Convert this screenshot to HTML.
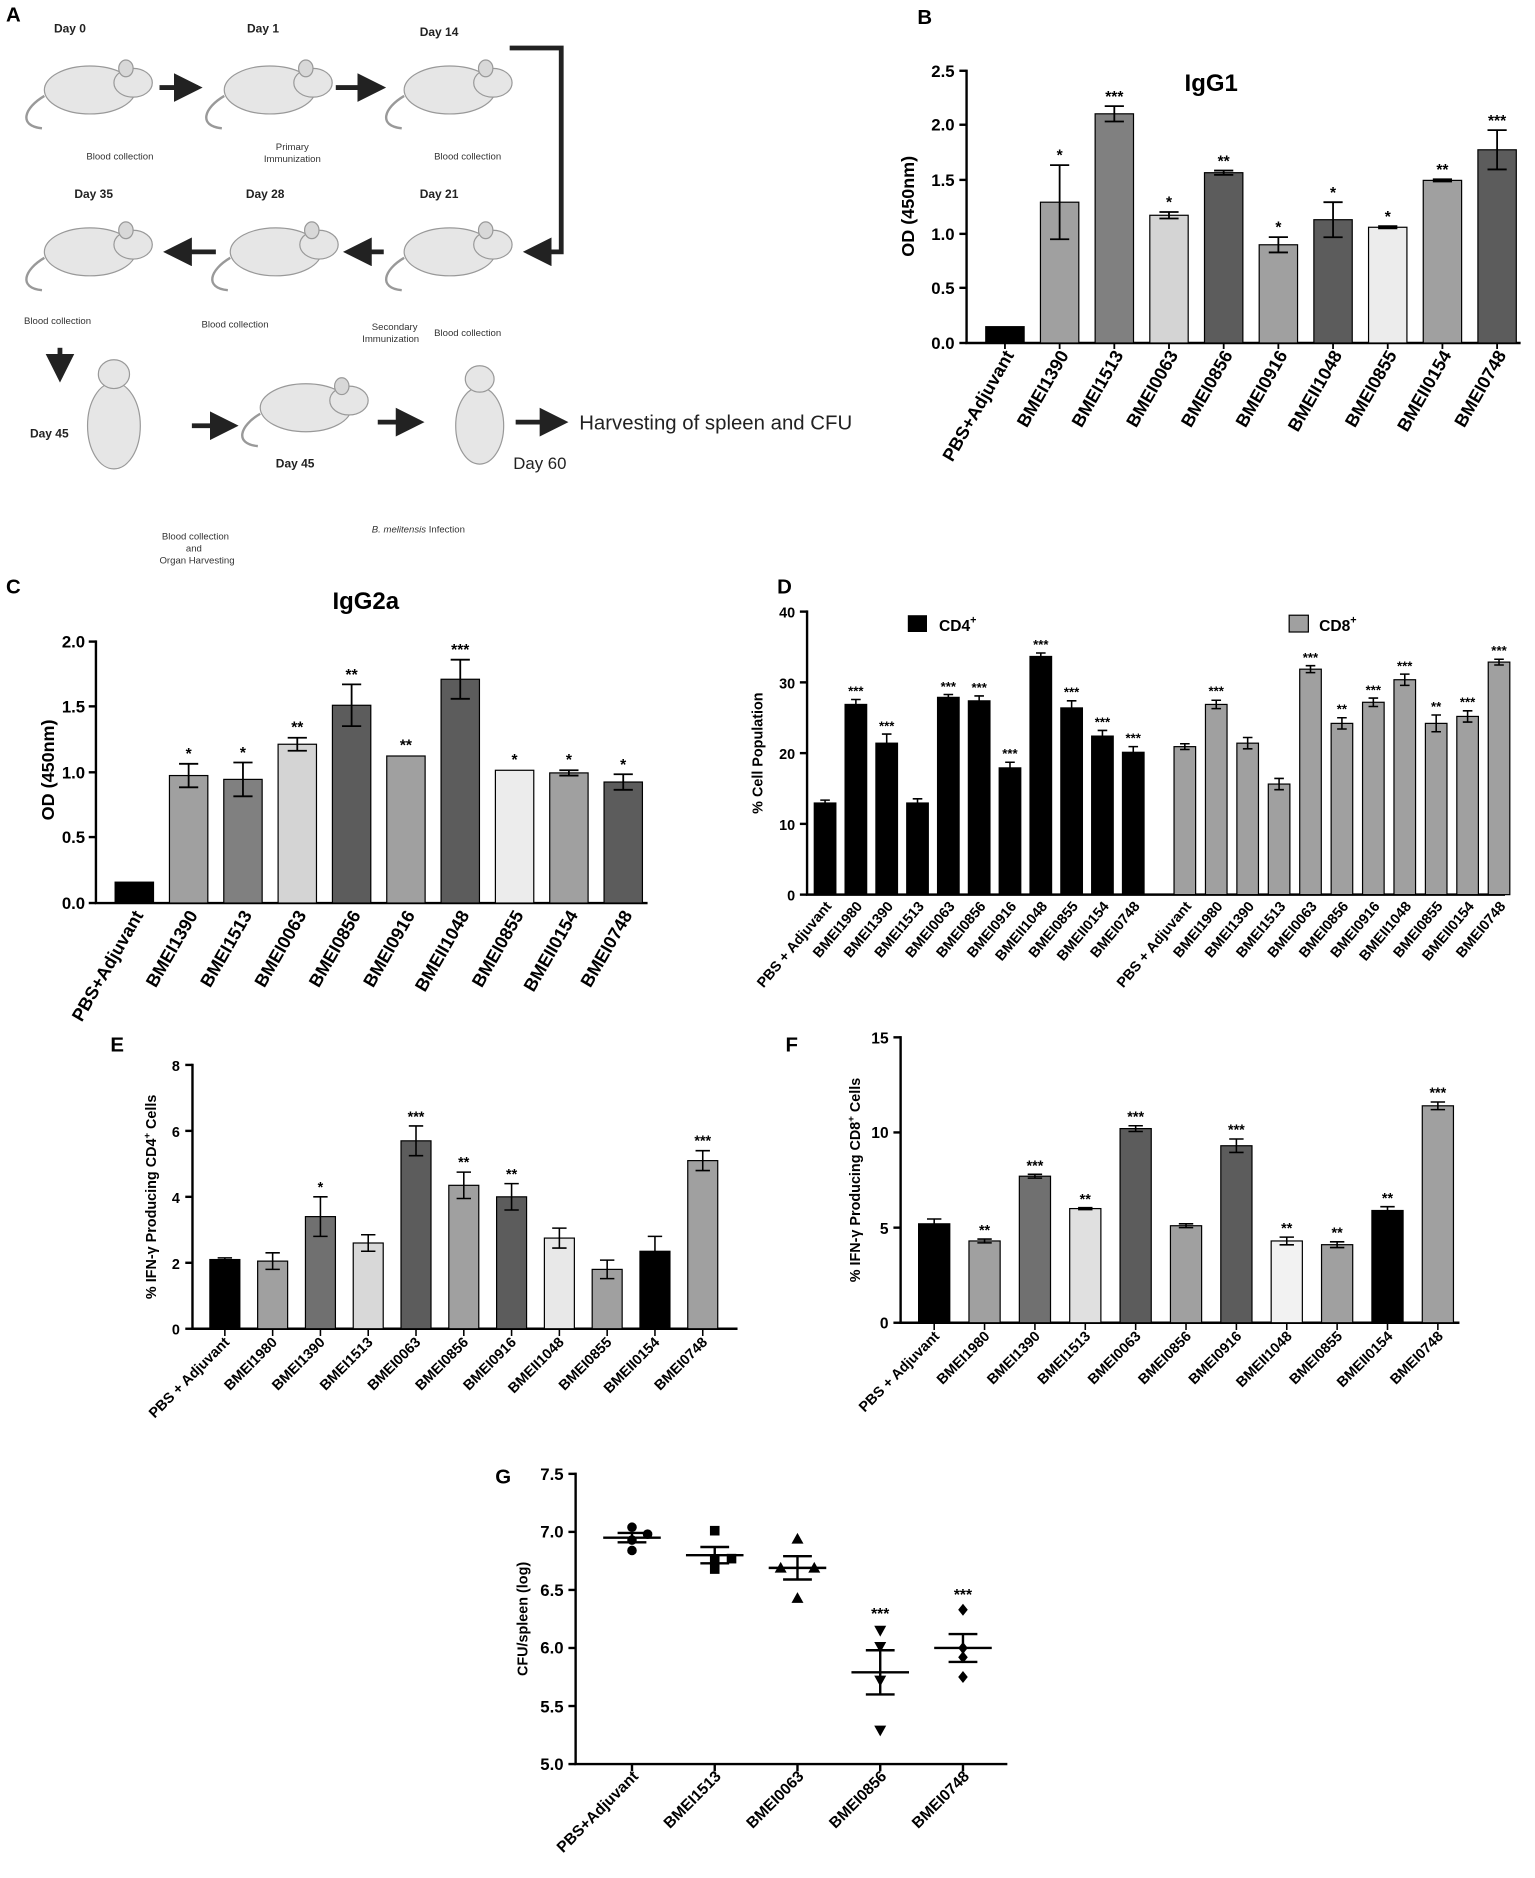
<!DOCTYPE html>
<html><head><meta charset="utf-8"><style>
html,body{margin:0;padding:0;background:#fff}
svg{display:block}
text{font-family:"Liberation Sans",Arial,sans-serif}
</style></head><body>
<svg width="1535" height="1878" viewBox="0 0 1280 1566" xmlns="http://www.w3.org/2000/svg">
<defs>
<marker id="ah" markerWidth="6" markerHeight="6" refX="5" refY="3" orient="auto"><path d="M0,0 L6,3 L0,6 z" fill="#222"/></marker>
<g id="mouse">
<ellipse cx="0" cy="0" rx="38" ry="20" fill="#e6e6e6" stroke="#999" stroke-width="1"/>
<ellipse cx="36" cy="-6" rx="16" ry="12" fill="#e6e6e6" stroke="#999" stroke-width="1"/>
<ellipse cx="30" cy="-18" rx="6" ry="7" fill="#d8d8d8" stroke="#999"/>
<path d="M-38,5 C-55,15 -60,30 -40,32" fill="none" stroke="#999" stroke-width="2"/>
</g>
</defs>
<rect width="1280" height="1566" fill="#fff"/>
<g font-weight="bold" font-size="17">
<text x="5" y="18">A</text><text x="765" y="20">B</text><text x="5" y="495">C</text><text x="648" y="495">D</text><text x="92" y="877">E</text><text x="655" y="877">F</text><text x="413" y="1237">G</text>
</g>
<!-- Panel A -->
<g font-size="10" font-weight="bold" fill="#222">
<text x="45" y="27">Day 0</text><text x="206" y="27">Day 1</text><text x="350" y="30">Day 14</text>
<text x="62" y="165">Day 35</text><text x="205" y="165">Day 28</text><text x="350" y="165">Day 21</text>
<text x="25" y="365">Day 45</text><text x="230" y="390">Day 45</text>
</g>
<g font-size="8" fill="#333">
<text x="72" y="133">Blood collection</text><text x="230" y="125">Primary</text><text x="220" y="135">Immunization</text>
<text x="362" y="133">Blood collection</text><text x="20" y="270">Blood collection</text><text x="168" y="273">Blood collection</text>
<text x="310" y="275">Secondary</text><text x="302" y="285">Immunization</text><text x="362" y="280">Blood collection</text>
<text x="135" y="450">Blood collection</text><text x="155" y="460">and</text><text x="133" y="470">Organ Harvesting</text>
<text x="310" y="444"><tspan font-style="italic">B. melitensis</tspan> Infection</text>
</g>
<use href="#mouse" x="75" y="75"/><use href="#mouse" x="225" y="75"/><use href="#mouse" x="375" y="75"/>
<use href="#mouse" x="75" y="210"/><use href="#mouse" x="230" y="210"/><use href="#mouse" x="375" y="210"/>
<use href="#mouse" x="255" y="340"/>
<ellipse cx="95" cy="355" rx="22" ry="36" fill="#e6e6e6" stroke="#999"/><ellipse cx="95" cy="312" rx="13" ry="12" fill="#e6e6e6" stroke="#999"/>
<ellipse cx="400" cy="355" rx="20" ry="32" fill="#e6e6e6" stroke="#999"/><ellipse cx="400" cy="316" rx="12" ry="11" fill="#e6e6e6" stroke="#999"/>
<g stroke="#222" stroke-width="4" fill="none" marker-end="url(#ah)">
<line x1="133" y1="73" x2="165" y2="73"/><line x1="280" y1="73" x2="318" y2="73"/>
<polyline points="425,40 468,40 468,210 440,210"/><line x1="320" y1="210" x2="290" y2="210"/><line x1="180" y1="210" x2="140" y2="210"/>
<line x1="50" y1="290" x2="50" y2="315"/><line x1="160" y1="355" x2="195" y2="355"/><line x1="315" y1="352" x2="350" y2="352"/><line x1="430" y1="352" x2="470" y2="352"/>
</g>
<text x="483" y="358" font-size="17" fill="#222">Harvesting of spleen and CFU</text>
<text x="428" y="391" font-size="14" fill="#222">Day 60</text>

<g font-weight="bold" font-size="13" fill="#000">
<!-- B axes -->
<text x="1010" y="76" font-size="20" text-anchor="middle">IgG1</text>
<text transform="translate(762,172) rotate(-90)" text-anchor="middle" font-size="15">OD (450nm)</text>
<g stroke="#000" stroke-width="2"><line x1="806" y1="58" x2="806" y2="286"/><line x1="805" y1="286" x2="1268" y2="286"/>
<line x1="800" y1="59" x2="806" y2="59"/><line x1="800" y1="104" x2="806" y2="104"/><line x1="800" y1="150" x2="806" y2="150"/><line x1="800" y1="195" x2="806" y2="195"/><line x1="800" y1="240" x2="806" y2="240"/><line x1="800" y1="286" x2="806" y2="286"/></g>
<g text-anchor="end" font-size="14"><text x="796" y="64">2.5</text><text x="796" y="109">2.0</text><text x="796" y="155">1.5</text><text x="796" y="200">1.0</text><text x="796" y="245">0.5</text><text x="796" y="291">0.0</text></g>
<g stroke="#000" stroke-width="1">
<rect x="822" y="272.4" width="32" height="13.6" fill="#000"/>
<rect x="867.6" y="168.6" width="32" height="117.4" fill="#a0a0a0"/>
<rect x="913.2" y="94.9" width="32" height="191.1" fill="#808080"/>
<rect x="958.8" y="179.5" width="32" height="106.5" fill="#d4d4d4"/>
<rect x="1004.4" y="144" width="32" height="142" fill="#5c5c5c"/>
<rect x="1050" y="204.1" width="32" height="81.9" fill="#a0a0a0"/>
<rect x="1095.6" y="183.2" width="32" height="102.8" fill="#5c5c5c"/>
<rect x="1141.2" y="189.5" width="32" height="96.5" fill="#ececec"/>
<rect x="1186.8" y="150.4" width="32" height="135.6" fill="#a0a0a0"/>
<rect x="1232.4" y="124.9" width="32" height="161.1" fill="#5c5c5c"/>
</g>
<path stroke="#000" stroke-width="1.5" fill="none" d="
M883.6,137.7V199.5M875.6,137.7h16M875.6,199.5h16
M929.2,88.5V101.3M921.2,88.5h16M921.2,101.3h16
M974.8,176.8V182.2M966.8,176.8h16M966.8,182.2h16
M1020.4,142.2V145.8M1012.4,142.2h16M1012.4,145.8h16
M1066,197.7V210.5M1058,197.7h16M1058,210.5h16
M1111.6,168.6V197.8M1103.6,168.6h16M1103.6,197.8h16
M1157.2,188.6V190.4M1149.2,188.6h16M1149.2,190.4h16
M1202.8,149.5V151.3M1194.8,149.5h16M1194.8,151.3h16
M1248.4,108.5V141.3M1240.4,108.5h16M1240.4,141.3h16
M838,286v5M883.6,286v5M929.2,286v5M974.8,286v5M1020.4,286v5M1066,286v5M1111.6,286v5M1157.2,286v5M1202.8,286v5M1248.4,286v5"/>
<g text-anchor="middle" font-size="13">
<text x="883.6" y="134">*</text><text x="929.2" y="85">***</text><text x="974.8" y="173">*</text><text x="1020.4" y="139">**</text><text x="1066" y="194">*</text><text x="1111.6" y="165">*</text><text x="1157.2" y="185">*</text><text x="1202.8" y="146">**</text><text x="1248.4" y="105">***</text>
</g>
<g text-anchor="end" font-size="15">
<text transform="translate(846,296) rotate(-60)">PBS+Adjuvant</text>
<text transform="translate(891.6,296) rotate(-60)">BMEI1390</text>
<text transform="translate(937.2,296) rotate(-60)">BMEI1513</text>
<text transform="translate(982.8,296) rotate(-60)">BMEI0063</text>
<text transform="translate(1028.4,296) rotate(-60)">BMEI0856</text>
<text transform="translate(1074,296) rotate(-60)">BMEI0916</text>
<text transform="translate(1119.6,296) rotate(-60)">BMEII1048</text>
<text transform="translate(1165.2,296) rotate(-60)">BMEI0855</text>
<text transform="translate(1210.8,296) rotate(-60)">BMEII0154</text>
<text transform="translate(1256.4,296) rotate(-60)">BMEI0748</text>
</g>

<!-- C -->
<text x="305" y="508" font-size="20" text-anchor="middle">IgG2a</text>
<text transform="translate(45,642) rotate(-90)" text-anchor="middle" font-size="15">OD (450nm)</text>
<g stroke="#000" stroke-width="2"><line x1="80" y1="534" x2="80" y2="753"/><line x1="79" y1="753" x2="540" y2="753"/>
<line x1="74" y1="535" x2="80" y2="535"/><line x1="74" y1="589" x2="80" y2="589"/><line x1="74" y1="644" x2="80" y2="644"/><line x1="74" y1="698" x2="80" y2="698"/><line x1="74" y1="753" x2="80" y2="753"/></g>
<g text-anchor="end" font-size="14"><text x="71" y="540">2.0</text><text x="71" y="594">1.5</text><text x="71" y="649">1.0</text><text x="71" y="703">0.5</text><text x="71" y="758">0.0</text></g>
<g stroke="#000" stroke-width="1">
<rect x="96" y="735.6" width="32" height="17.4" fill="#000"/>
<rect x="141.3" y="646.7" width="32" height="106.3" fill="#a0a0a0"/>
<rect x="186.6" y="649.9" width="32" height="103.1" fill="#808080"/>
<rect x="231.9" y="620.6" width="32" height="132.4" fill="#d4d4d4"/>
<rect x="277.2" y="588.1" width="32" height="164.9" fill="#5c5c5c"/>
<rect x="322.5" y="630.4" width="32" height="122.6" fill="#a0a0a0"/>
<rect x="367.8" y="566.4" width="32" height="186.6" fill="#5c5c5c"/>
<rect x="413.1" y="642.3" width="32" height="110.7" fill="#ececec"/>
<rect x="458.4" y="644.5" width="32" height="108.5" fill="#a0a0a0"/>
<rect x="503.7" y="652.1" width="32" height="100.9" fill="#5c5c5c"/>
</g>
<path stroke="#000" stroke-width="1.5" fill="none" d="
M157.3,636.9V656.5M149.3,636.9h16M149.3,656.5h16
M202.6,635.8V664M194.6,635.8h16M194.6,664h16
M247.9,615.2V626M239.9,615.2h16M239.9,626h16
M293.2,570.7V605.5M285.2,570.7h16M285.2,605.5h16
M383.8,550.1V582.7M375.8,550.1h16M375.8,582.7h16
M474.4,642.3V646.7M466.4,642.3h16M466.4,646.7h16
M519.7,645.6V658.6M511.7,645.6h16M511.7,658.6h16"/>
<g text-anchor="middle" font-size="13">
<text x="157.3" y="633">*</text><text x="202.6" y="632">*</text><text x="247.9" y="611">**</text><text x="293.2" y="567">**</text><text x="338.5" y="626">**</text><text x="383.8" y="546">***</text><text x="429.1" y="638">*</text><text x="474.4" y="638">*</text><text x="519.7" y="642">*</text>
</g>
<g text-anchor="end" font-size="15">
<text transform="translate(120,763) rotate(-60)">PBS+Adjuvant</text>
<text transform="translate(165.3,763) rotate(-60)">BMEI1390</text>
<text transform="translate(210.6,763) rotate(-60)">BMEI1513</text>
<text transform="translate(255.9,763) rotate(-60)">BMEI0063</text>
<text transform="translate(301.2,763) rotate(-60)">BMEI0856</text>
<text transform="translate(346.5,763) rotate(-60)">BMEI0916</text>
<text transform="translate(391.8,763) rotate(-60)">BMEII1048</text>
<text transform="translate(437.1,763) rotate(-60)">BMEI0855</text>
<text transform="translate(482.4,763) rotate(-60)">BMEII0154</text>
<text transform="translate(527.7,763) rotate(-60)">BMEI0748</text>
</g>

<!-- D -->
<text transform="translate(636,628) rotate(-90)" text-anchor="middle" font-size="12">% Cell Population</text>
<g stroke="#000" stroke-width="2"><line x1="673" y1="509" x2="673" y2="746"/><line x1="672" y1="746" x2="1255" y2="746"/>
<line x1="667" y1="510" x2="673" y2="510"/><line x1="667" y1="569" x2="673" y2="569"/><line x1="667" y1="628" x2="673" y2="628"/><line x1="667" y1="687" x2="673" y2="687"/><line x1="667" y1="746" x2="673" y2="746"/></g>
<g text-anchor="end" font-size="12"><text x="663" y="515">40</text><text x="663" y="574">30</text><text x="663" y="633">20</text><text x="663" y="692">10</text><text x="663" y="751">0</text></g>
<rect x="757" y="513" width="16" height="14" fill="#000"/><text x="783" y="526">CD4<tspan font-size="9" dy="-6">+</tspan></text>
<rect x="1075" y="513" width="16" height="14" fill="#a0a0a0" stroke="#000"/><text x="1100" y="526">CD8<tspan font-size="9" dy="-6">+</tspan></text>
<g stroke="#000" stroke-width="1" fill="#000">
<rect x="679" y="669.6" width="18" height="76.4"/>
<rect x="704.7" y="587.4" width="18" height="158.6"/>
<rect x="730.4" y="619.7" width="18" height="126.3"/>
<rect x="756.1" y="669.6" width="18" height="76.4"/>
<rect x="781.8" y="581.5" width="18" height="164.5"/>
<rect x="807.5" y="584.4" width="18" height="161.6"/>
<rect x="833.2" y="640.3" width="18" height="105.7"/>
<rect x="858.9" y="547.4" width="18" height="198.6"/>
<rect x="884.6" y="590.3" width="18" height="155.7"/>
<rect x="910.3" y="613.8" width="18" height="132.2"/>
<rect x="936" y="627.3" width="18" height="118.7"/>
</g>
<g stroke="#000" stroke-width="1" fill="#a0a0a0">
<rect x="979" y="622.6" width="18" height="123.4"/>
<rect x="1005.2" y="587.4" width="18" height="158.6"/>
<rect x="1031.4" y="619.7" width="18" height="126.3"/>
<rect x="1057.6" y="653.8" width="18" height="92.2"/>
<rect x="1083.8" y="558" width="18" height="188"/>
<rect x="1110" y="603.2" width="18" height="142.8"/>
<rect x="1136.2" y="585.6" width="18" height="160.4"/>
<rect x="1162.4" y="566.8" width="18" height="179.2"/>
<rect x="1188.6" y="603.2" width="18" height="142.8"/>
<rect x="1214.8" y="597.4" width="18" height="148.6"/>
<rect x="1241" y="552.1" width="18" height="193.9"/>
</g>
<path stroke="#000" stroke-width="1.3" fill="none" d="
M688,667.2V672M684,667.2h8M684,672h8
M713.7,583.3V591.5M709.7,583.3h8M709.7,591.5h8
M739.4,612.1V627.3M735.4,612.1h8M735.4,627.3h8
M765.1,666.1V673.1M761.1,666.1h8M761.1,673.1h8
M790.8,579.1V583.9M786.8,579.1h8M786.8,583.9h8
M816.5,580.3V588.5M812.5,580.3h8M812.5,588.5h8
M842.2,635.6V645M838.2,635.6h8M838.2,645h8
M867.9,544.5V550.3M863.9,544.5h8M863.9,550.3h8
M893.6,584.4V596.2M889.6,584.4h8M889.6,596.2h8
M919.3,609.1V618.5M915.3,609.1h8M915.3,618.5h8
M945,622.6V632M941,622.6h8M941,632h8
M988,620.2V625M984,620.2h8M984,625h8
M1014.2,583.9V590.9M1010.2,583.9h8M1010.2,590.9h8
M1040.4,615V624.4M1036.4,615h8M1036.4,624.4h8
M1066.6,649.1V658.5M1062.6,649.1h8M1062.6,658.5h8
M1092.8,555.1V560.9M1088.8,555.1h8M1088.8,560.9h8
M1119,598.5V607.9M1115,598.5h8M1115,607.9h8
M1145.2,582.1V589.1M1141.2,582.1h8M1141.2,589.1h8
M1171.4,562.1V571.5M1167.4,562.1h8M1167.4,571.5h8
M1197.6,596.2V610.2M1193.6,596.2h8M1193.6,610.2h8
M1223.8,592.7V602.1M1219.8,592.7h8M1219.8,602.1h8
M1250,549.7V554.5M1246,549.7h8M1246,554.5h8" />
<g text-anchor="middle" font-size="11">
<text x="713.7" y="580">***</text><text x="739.4" y="609">***</text><text x="790.8" y="576">***</text><text x="816.5" y="577">***</text><text x="842.2" y="632">***</text><text x="867.9" y="541">***</text><text x="893.6" y="581">***</text><text x="919.3" y="606">***</text><text x="945" y="619">***</text>
<text x="1014.2" y="580">***</text><text x="1092.8" y="552">***</text><text x="1119" y="595">**</text><text x="1145.2" y="579">***</text><text x="1171.4" y="559">***</text><text x="1197.6" y="593">**</text><text x="1223.8" y="589">***</text><text x="1250" y="546">***</text>
</g>
<g text-anchor="end" font-size="12">
<text transform="translate(694,756) rotate(-50)">PBS + Adjuvant</text>
<text transform="translate(719.7,756) rotate(-50)">BMEI1980</text>
<text transform="translate(745.4,756) rotate(-50)">BMEI1390</text>
<text transform="translate(771.1,756) rotate(-50)">BMEI1513</text>
<text transform="translate(796.8,756) rotate(-50)">BMEI0063</text>
<text transform="translate(822.5,756) rotate(-50)">BMEI0856</text>
<text transform="translate(848.2,756) rotate(-50)">BMEI0916</text>
<text transform="translate(873.9,756) rotate(-50)">BMEII1048</text>
<text transform="translate(899.6,756) rotate(-50)">BMEI0855</text>
<text transform="translate(925.3,756) rotate(-50)">BMEII0154</text>
<text transform="translate(951,756) rotate(-50)">BMEI0748</text>
<text transform="translate(994,756) rotate(-50)">PBS + Adjuvant</text>
<text transform="translate(1020.2,756) rotate(-50)">BMEI1980</text>
<text transform="translate(1046.4,756) rotate(-50)">BMEI1390</text>
<text transform="translate(1072.6,756) rotate(-50)">BMEI1513</text>
<text transform="translate(1098.8,756) rotate(-50)">BMEI0063</text>
<text transform="translate(1125,756) rotate(-50)">BMEI0856</text>
<text transform="translate(1151.2,756) rotate(-50)">BMEI0916</text>
<text transform="translate(1177.4,756) rotate(-50)">BMEII1048</text>
<text transform="translate(1203.6,756) rotate(-50)">BMEI0855</text>
<text transform="translate(1229.8,756) rotate(-50)">BMEII0154</text>
<text transform="translate(1256,756) rotate(-50)">BMEI0748</text>
</g>

<!-- E -->
<text transform="translate(130,998) rotate(-90)" text-anchor="middle" font-size="12">% IFN-γ Producing CD4<tspan font-size="8" dy="-5">+</tspan><tspan dy="5"> Cells</tspan></text>
<g stroke="#000" stroke-width="2"><line x1="160.5" y1="887" x2="160.5" y2="1108"/><line x1="159.5" y1="1108" x2="615" y2="1108"/>
<line x1="154.5" y1="888" x2="160.5" y2="888"/><line x1="154.5" y1="943" x2="160.5" y2="943"/><line x1="154.5" y1="998" x2="160.5" y2="998"/><line x1="154.5" y1="1053" x2="160.5" y2="1053"/><line x1="154.5" y1="1108" x2="160.5" y2="1108"/></g>
<g text-anchor="end" font-size="12"><text x="150" y="893">8</text><text x="150" y="948">6</text><text x="150" y="1003">4</text><text x="150" y="1058">2</text><text x="150" y="1113">0</text></g>
<g stroke="#000" stroke-width="1">
<rect x="175" y="1050.3" width="25" height="57.7" fill="#000"/>
<rect x="214.85" y="1051.6" width="25" height="56.4" fill="#a0a0a0"/>
<rect x="254.7" y="1014.5" width="25" height="93.5" fill="#707070"/>
<rect x="294.55" y="1036.5" width="25" height="71.5" fill="#d8d8d8"/>
<rect x="334.4" y="951.3" width="25" height="156.7" fill="#5c5c5c"/>
<rect x="374.25" y="988.4" width="25" height="119.6" fill="#a0a0a0"/>
<rect x="414.1" y="998" width="25" height="110" fill="#5c5c5c"/>
<rect x="453.95" y="1032.4" width="25" height="75.6" fill="#e8e8e8"/>
<rect x="493.8" y="1058.5" width="25" height="49.5" fill="#a0a0a0"/>
<rect x="533.65" y="1043.4" width="25" height="64.6" fill="#000"/>
<rect x="573.5" y="967.8" width="25" height="140.2" fill="#a0a0a0"/>
</g>
<path stroke="#000" stroke-width="1.3" fill="none" d="
M187.5,1048.9V1051.7M181.5,1048.9h12M181.5,1051.7h12
M227.35,1044.7V1058.5M221.35,1044.7h12M221.35,1058.5h12
M267.2,998V1031M261.2,998h12M261.2,1031h12
M307.05,1029.6V1043.4M301.05,1029.6h12M301.05,1043.4h12
M346.9,938.9V963.7M340.9,938.9h12M340.9,963.7h12
M386.75,977.4V999.4M380.75,977.4h12M380.75,999.4h12
M426.6,987V1009M420.6,987h12M420.6,1009h12
M466.45,1024.1V1040.7M460.45,1024.1h12M460.45,1040.7h12
M506.3,1050.8V1066.2M500.3,1050.8h12M500.3,1066.2h12
M546.15,1031V1055.8M540.15,1031h12M540.15,1055.8h12
M586,959.5V976.1M580,959.5h12M580,976.1h12
M187.5,1108v6M227.35,1108v6M267.2,1108v6M307.05,1108v6M346.9,1108v6M386.75,1108v6M426.6,1108v6M466.45,1108v6M506.3,1108v6M546.15,1108v6M586,1108v6"/>
<g text-anchor="middle" font-size="12">
<text x="267.2" y="994">*</text><text x="346.9" y="935">***</text><text x="386.75" y="973">**</text><text x="426.6" y="983">**</text><text x="586" y="955">***</text>
</g>
<g text-anchor="end" font-size="12">
<text transform="translate(192,1120) rotate(-45)">PBS + Adjuvant</text>
<text transform="translate(231.85,1120) rotate(-45)">BMEI1980</text>
<text transform="translate(271.7,1120) rotate(-45)">BMEI1390</text>
<text transform="translate(311.55,1120) rotate(-45)">BMEI1513</text>
<text transform="translate(351.4,1120) rotate(-45)">BMEI0063</text>
<text transform="translate(391.25,1120) rotate(-45)">BMEI0856</text>
<text transform="translate(431.1,1120) rotate(-45)">BMEI0916</text>
<text transform="translate(470.95,1120) rotate(-45)">BMEII1048</text>
<text transform="translate(510.8,1120) rotate(-45)">BMEI0855</text>
<text transform="translate(550.65,1120) rotate(-45)">BMEII0154</text>
<text transform="translate(590.5,1120) rotate(-45)">BMEI0748</text>
</g>

<!-- F -->
<text transform="translate(717,984) rotate(-90)" text-anchor="middle" font-size="12">% IFN-γ Producing CD8<tspan font-size="8" dy="-5">+</tspan><tspan dy="5"> Cells</tspan></text>
<g stroke="#000" stroke-width="2"><line x1="751" y1="864" x2="751" y2="1103"/><line x1="750" y1="1103" x2="1217" y2="1103"/>
<line x1="745" y1="865" x2="751" y2="865"/><line x1="745" y1="944.3" x2="751" y2="944.3"/><line x1="745" y1="1023.7" x2="751" y2="1023.7"/><line x1="745" y1="1103" x2="751" y2="1103"/></g>
<g text-anchor="end" font-size="13"><text x="741" y="870">15</text><text x="741" y="949">10</text><text x="741" y="1029">5</text><text x="741" y="1108">0</text></g>
<g stroke="#000" stroke-width="1">
<rect x="766" y="1020.5" width="26" height="82.5" fill="#000"/>
<rect x="808" y="1034.8" width="26" height="68.2" fill="#a0a0a0"/>
<rect x="850" y="980.8" width="26" height="122.2" fill="#707070"/>
<rect x="892" y="1007.8" width="26" height="95.2" fill="#e0e0e0"/>
<rect x="934" y="941.1" width="26" height="161.9" fill="#5c5c5c"/>
<rect x="976" y="1022.1" width="26" height="80.9" fill="#a0a0a0"/>
<rect x="1018" y="955.4" width="26" height="147.6" fill="#5c5c5c"/>
<rect x="1060" y="1034.8" width="26" height="68.2" fill="#f2f2f2"/>
<rect x="1102" y="1037.9" width="26" height="65.1" fill="#a0a0a0"/>
<rect x="1144" y="1009.4" width="26" height="93.6" fill="#000"/>
<rect x="1186" y="922.1" width="26" height="180.9" fill="#a0a0a0"/>
</g>
<path stroke="#000" stroke-width="1.3" fill="none" d="
M779,1016.5V1024.5M773,1016.5h12M773,1024.5h12
M821,1033.2V1036.4M815,1033.2h12M815,1036.4h12
M863,979.2V982.4M857,979.2h12M857,982.4h12
M905,1007V1008.6M899,1007h12M899,1008.6h12
M947,938.7V943.5M941,938.7h12M941,943.5h12
M989,1020.5V1023.7M983,1020.5h12M983,1023.7h12
M1031,949.8V961M1025,949.8h12M1025,961h12
M1073,1031.6V1038M1067,1031.6h12M1067,1038h12
M1115,1035.5V1040.3M1109,1035.5h12M1109,1040.3h12
M1157,1006.2V1012.6M1151,1006.2h12M1151,1012.6h12
M1199,918.9V925.3M1193,918.9h12M1193,925.3h12
M779,1103v6M821,1103v6M863,1103v6M905,1103v6M947,1103v6M989,1103v6M1031,1103v6M1073,1103v6M1115,1103v6M1157,1103v6M1199,1103v6"/>
<g text-anchor="middle" font-size="12">
<text x="821" y="1030">**</text><text x="863" y="976">***</text><text x="905" y="1004">**</text><text x="947" y="935">***</text><text x="1031" y="946">***</text><text x="1073" y="1028">**</text><text x="1115" y="1032">**</text><text x="1157" y="1003">**</text><text x="1199" y="915">***</text>
</g>
<g text-anchor="end" font-size="12">
<text transform="translate(784,1115) rotate(-45)">PBS + Adjuvant</text>
<text transform="translate(826,1115) rotate(-45)">BMEI1980</text>
<text transform="translate(868,1115) rotate(-45)">BMEI1390</text>
<text transform="translate(910,1115) rotate(-45)">BMEI1513</text>
<text transform="translate(952,1115) rotate(-45)">BMEI0063</text>
<text transform="translate(994,1115) rotate(-45)">BMEI0856</text>
<text transform="translate(1036,1115) rotate(-45)">BMEI0916</text>
<text transform="translate(1078,1115) rotate(-45)">BMEII1048</text>
<text transform="translate(1120,1115) rotate(-45)">BMEI0855</text>
<text transform="translate(1162,1115) rotate(-45)">BMEII0154</text>
<text transform="translate(1204,1115) rotate(-45)">BMEI0748</text>
</g>

<!-- G -->
<text transform="translate(440,1350) rotate(-90)" text-anchor="middle" font-size="12">CFU/spleen (log)</text>
<g stroke="#000" stroke-width="2"><line x1="480" y1="1228" x2="480" y2="1471"/><line x1="479" y1="1471" x2="840" y2="1471"/>
<line x1="474" y1="1229" x2="480" y2="1229"/><line x1="474" y1="1277.4" x2="480" y2="1277.4"/><line x1="474" y1="1325.8" x2="480" y2="1325.8"/><line x1="474" y1="1374.2" x2="480" y2="1374.2"/><line x1="474" y1="1422.6" x2="480" y2="1422.6"/><line x1="474" y1="1471" x2="480" y2="1471"/>
<line x1="527" y1="1471" x2="527" y2="1477"/><line x1="596" y1="1471" x2="596" y2="1477"/><line x1="665" y1="1471" x2="665" y2="1477"/><line x1="734" y1="1471" x2="734" y2="1477"/><line x1="803" y1="1471" x2="803" y2="1477"/></g>
<g text-anchor="end" font-size="14"><text x="470" y="1234">7.5</text><text x="470" y="1282">7.0</text><text x="470" y="1331">6.5</text><text x="470" y="1379">6.0</text><text x="470" y="1428">5.5</text><text x="470" y="1476">5.0</text></g>
<g fill="#000">
<circle cx="527" cy="1273.5" r="4"/><circle cx="527" cy="1284.2" r="4"/><circle cx="540" cy="1279.3" r="4"/><circle cx="527" cy="1292.9" r="4"/>
<rect x="592" y="1272.4" width="8" height="8"/><rect x="592" y="1296.6" width="8" height="8"/><rect x="606" y="1295.7" width="8" height="8"/><rect x="592" y="1304.4" width="8" height="8"/>
<path d="M665,1278.2l5,9h-10z M651,1302.4l5,9h-10z M679,1302.4l5,9h-10z M665,1327.6l5,9h-10z"/>
<path d="M734,1364.7l5,-9h-10z M734,1378.2l5,-9h-10z M734,1406.3l5,-9h-10z M734,1447.9l5,-9h-10z"/>
<path d="M803,1337.3l4,5l-4,5l-4,-5z M803,1369.2l4,5l-4,5l-4,-5z M803,1376.9l4,5l-4,5l-4,-5z M803,1393.4l4,5l-4,5l-4,-5z"/>
</g>
<path stroke="#000" stroke-width="2" fill="none" d="
M503,1282.2h48M527,1278.3V1286.1M515,1278.3h24M515,1286.1h24
M572,1296.8h48M596,1290V1303.6M584,1290h24M584,1303.6h24
M641,1307.4h48M665,1297.7V1317.1M653,1297.7h24M653,1317.1h24
M710,1394.5h48M734,1376.1V1412.9M722,1376.1h24M722,1412.9h24
M779,1374.2h48M803,1362.6V1385.8M791,1362.6h24M791,1385.8h24"/>
<g text-anchor="middle" font-size="13"><text x="734" y="1350">***</text><text x="803" y="1334">***</text></g>
<g text-anchor="end" font-size="13">
<text transform="translate(533,1482) rotate(-45)">PBS+Adjuvant</text>
<text transform="translate(602,1482) rotate(-45)">BMEI1513</text>
<text transform="translate(671,1482) rotate(-45)">BMEI0063</text>
<text transform="translate(740,1482) rotate(-45)">BMEI0856</text>
<text transform="translate(809,1482) rotate(-45)">BMEI0748</text>
</g>
</g>
</svg>
</body></html>
